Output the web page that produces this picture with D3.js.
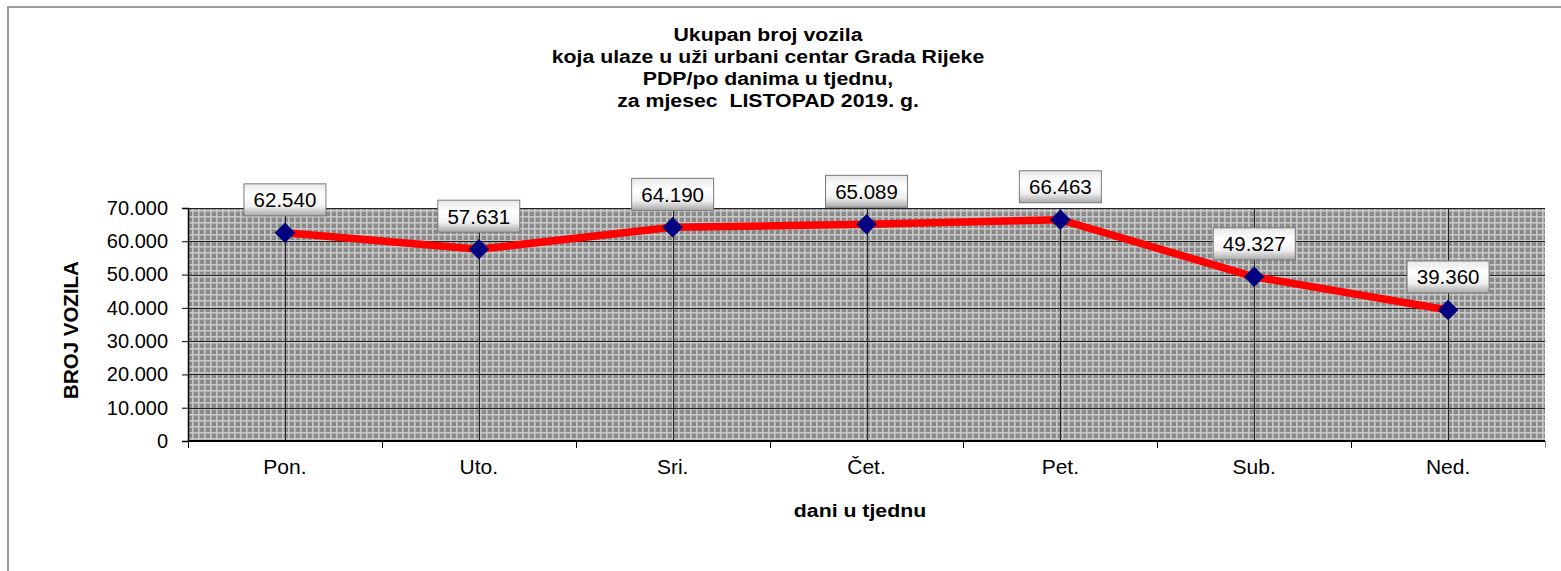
<!DOCTYPE html>
<html>
<head>
<meta charset="utf-8">
<script src="https://cdn.jsdelivr.net/npm/d3@7"></script>
<style>
  body { margin: 0; background: #fff; }
  text { font-family: Arial, "Liberation Sans", sans-serif; fill: #000; }
</style>
</head>
<body>
<svg id="chart" width="1561" height="571"></svg>
<script>
// chart data
const days = ['Pon.', 'Uto.', 'Sri.', 'Čet.', 'Pet.', 'Sub.', 'Ned.'];
const vehicles = [62540, 57631, 64190, 65089, 66463, 49327, 39360];
const yTicks = [0, 10000, 20000, 30000, 40000, 50000, 60000, 70000];
const titleLines = [
  'Ukupan broj vozila',
  'koja ulaze u uži urbani centar Grada Rijeke',
  'PDP/po danima u tjednu,',
  'za mjesec  LISTOPAD 2019. g.'
];

const svg = d3.select('#chart');

// number format with dot as thousands separator
const fmt = v => d3.format(',')(v).replace(/,/g, '.');

// plot area
const plotLeft = 188, plotRight = 1545, plotTop = 208, plotBottom = 441;

const x = d3.scaleBand().domain(days).range([plotLeft, plotRight]);
const y = d3.scaleLinear().domain([0, 70000]).range([plotBottom, plotTop]);

const defs = svg.append('defs');

// grey crosshatch fill of plot area
const pat = defs.append('pattern')
  .attr('id', 'hatch')
  .attr('patternUnits', 'userSpaceOnUse')
  .attr('width', 6)
  .attr('height', 6);
pat.append('rect').attr('width', 6).attr('height', 6).attr('fill', '#8a8a8a');
pat.append('rect').attr('x', 0).attr('width', 1.6).attr('height', 6).attr('fill', '#c8c8c8');
pat.append('rect').attr('y', 0).attr('width', 6).attr('height', 1.6).attr('fill', '#c8c8c8');

// gradient for label boxes
const grad = defs.append('linearGradient')
  .attr('id', 'boxGrad')
  .attr('x1', 0).attr('y1', 0).attr('x2', 0).attr('y2', 1);
grad.append('stop').attr('offset', '0%').attr('stop-color', '#e8e8e8');
grad.append('stop').attr('offset', '35%').attr('stop-color', '#ffffff');
grad.append('stop').attr('offset', '70%').attr('stop-color', '#f0f0f0');
grad.append('stop').attr('offset', '100%').attr('stop-color', '#a8a8a8');

// outer frame
svg.append('line')
  .attr('x1', 8).attr('y1', 7).attr('x2', 1561).attr('y2', 7)
  .attr('stroke', '#9a9a9a').attr('stroke-width', 2);
svg.append('line')
  .attr('x1', 8).attr('y1', 6).attr('x2', 8).attr('y2', 571)
  .attr('stroke', '#9a9a9a').attr('stroke-width', 2);

// title (the original renders it a bit wide, so stretch horizontally)
svg.append('text')
  .attr('transform', 'translate(768,40.5) scale(1.15,1)')
  .attr('text-anchor', 'middle')
  .attr('font-size', '18.5px')
  .attr('font-weight', 'bold')
  .style('white-space', 'pre')
  .selectAll('tspan')
  .data(titleLines)
  .enter()
  .append('tspan')
  .attr('x', 0)
  .attr('dy', (d, i) => i === 0 ? 0 : 22.2)
  .text(d => d);

// plot background
svg.append('rect')
  .attr('x', plotLeft).attr('y', plotTop)
  .attr('width', plotRight - plotLeft).attr('height', plotBottom - plotTop)
  .attr('fill', 'url(#hatch)');

// horizontal gridlines
svg.append('g')
  .selectAll('line')
  .data(yTicks.slice(1))
  .enter()
  .append('line')
  .attr('x1', plotLeft).attr('x2', plotRight)
  .attr('y1', d => Math.round(y(d)) + 0.5).attr('y2', d => Math.round(y(d)) + 0.5)
  .attr('stroke', '#222').attr('stroke-width', 1);

// vertical gridlines at category centres
svg.append('g')
  .selectAll('line')
  .data(days)
  .enter()
  .append('line')
  .attr('x1', d => Math.round(x(d) + x.bandwidth() / 2) + 0.5)
  .attr('x2', d => Math.round(x(d) + x.bandwidth() / 2) + 0.5)
  .attr('y1', plotTop).attr('y2', plotBottom)
  .attr('stroke', '#222').attr('stroke-width', 1);

// y axis
const yAxis = svg.append('g')
  .attr('transform', `translate(${plotLeft},0)`)
  .call(d3.axisLeft(y).tickValues(yTicks).tickSize(6).tickPadding(14).tickFormat(fmt));
yAxis.select('.domain').attr('stroke', '#000').attr('stroke-width', 1.5);
yAxis.selectAll('.tick line').attr('stroke', '#000');
yAxis.selectAll('text')
  .attr('font-size', '20px')
  .attr('font-family', 'Arial, "Liberation Sans", sans-serif');

// x axis with ticks at category boundaries
const xAxis = svg.append('g')
  .attr('transform', `translate(0,${plotBottom})`);
xAxis.append('line')
  .attr('x1', plotLeft).attr('x2', plotRight)
  .attr('y1', 0).attr('y2', 0)
  .attr('stroke', '#000').attr('stroke-width', 2);
xAxis.selectAll('.xtick')
  .data(d3.range(days.length + 1))
  .enter()
  .append('line')
  .attr('class', 'xtick')
  .attr('x1', i => Math.round(plotLeft + i * x.step()) + 0.5)
  .attr('x2', i => Math.round(plotLeft + i * x.step()) + 0.5)
  .attr('y1', 0).attr('y2', 7)
  .attr('stroke', i => i === days.length ? '#888' : '#000');
xAxis.selectAll('.xlabel')
  .data(days)
  .enter()
  .append('text')
  .attr('class', 'xlabel')
  .attr('x', d => x(d) + x.bandwidth() / 2)
  .attr('y', 33)
  .attr('text-anchor', 'middle')
  .attr('font-size', '21px')
  .text(d => d);

// axis titles
svg.append('text')
  .attr('transform', 'translate(78,330) rotate(-90)')
  .attr('text-anchor', 'middle')
  .attr('font-size', '20.5px')
  .attr('font-weight', 'bold')
  .text('BROJ VOZILA');

svg.append('text')
  .attr('transform', 'translate(860,517) scale(1.15,1)')
  .attr('text-anchor', 'middle')
  .attr('font-size', '18.5px')
  .attr('font-weight', 'bold')
  .text('dani u tjednu');

// series line
const pts = days.map((d, i) => ({ day: d, value: vehicles[i] }));
const line = d3.line()
  .x(d => x(d.day) + x.bandwidth() / 2)
  .y(d => y(d.value));

svg.append('path')
  .datum(pts)
  .attr('d', line)
  .attr('fill', 'none')
  .attr('stroke', '#ff0000')
  .attr('stroke-width', 7.5)
  .attr('stroke-linejoin', 'round');

// diamond markers
svg.append('g')
  .selectAll('path')
  .data(pts)
  .enter()
  .append('path')
  .attr('transform', d => `translate(${x(d.day) + x.bandwidth() / 2},${y(d.value)})`)
  .attr('d', 'M0,-10L10,0L0,10L-10,0Z')
  .attr('fill', '#000080')
  .attr('stroke', '#000060')
  .attr('stroke-width', 0.5);

// data labels in boxes
const labels = svg.append('g')
  .selectAll('g')
  .data(pts)
  .enter()
  .append('g')
  .attr('transform', d => `translate(${x(d.day) + x.bandwidth() / 2},${y(d.value) - 33})`);

labels.append('rect')
  .attr('x', -41).attr('y', -16)
  .attr('width', 82).attr('height', 32)
  .attr('fill', 'url(#boxGrad)')
  .attr('stroke', '#7a7a7a')
  .attr('stroke-width', 1);

labels.append('text')
  .attr('x', 0)
  .attr('y', 0)
  .attr('dy', '0.36em')
  .attr('text-anchor', 'middle')
  .attr('font-size', '20.5px')
  .text(d => fmt(d.value));
</script>
</body>
</html>
